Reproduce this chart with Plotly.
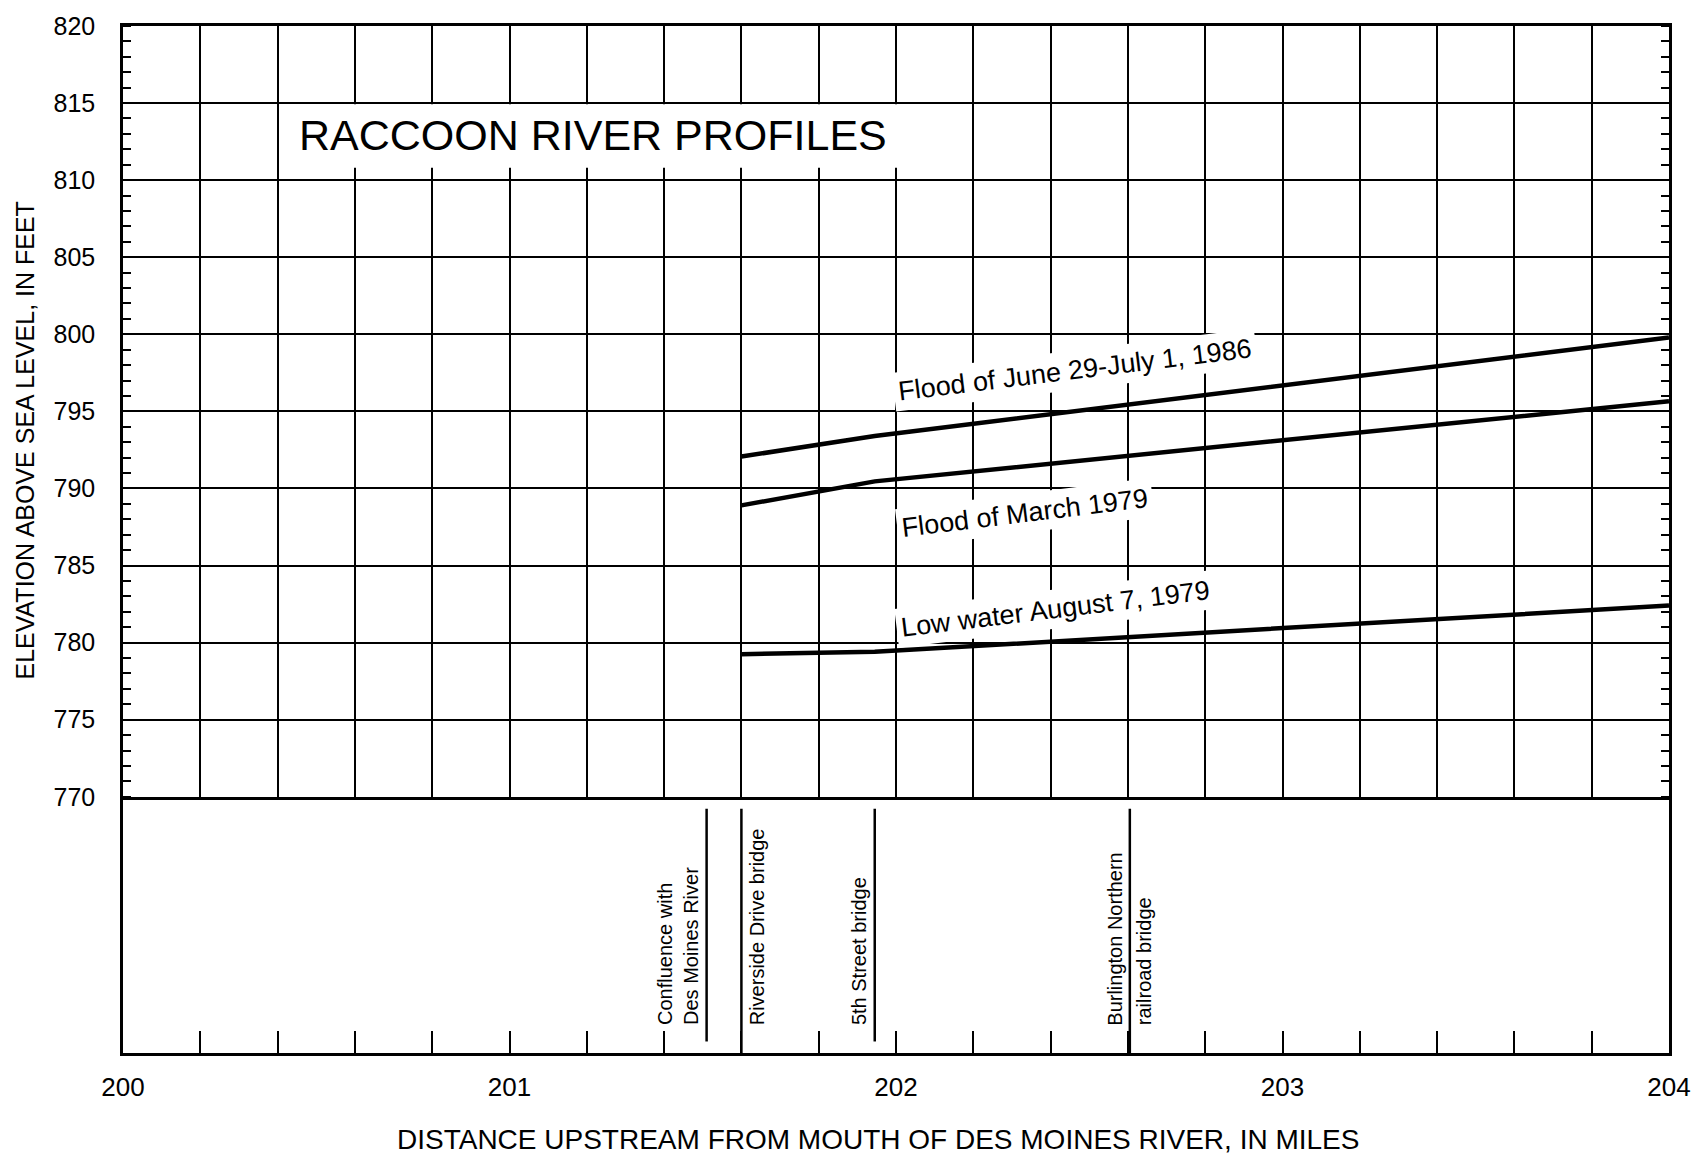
import plotly.graph_objects as go

# ---- data ----
miles = [201.6, 201.945, 204.0]
flood_1986 = [792.07, 793.4, 799.8]
flood_1979 = [788.9, 790.46, 795.65]
low_water_1979 = [779.25, 779.4, 782.4]

series_names = ["Flood of June 29-July 1, 1986", "Flood of March 1979", "Low water August 7, 1979"]
label_x = [202.463, 202.335, 202.412]
label_y = [797.68, 788.39, 782.19]

bridge_names = ["Confluence with<br>Des Moines River", "Riverside Drive bridge", "5th Street bridge",
                "Burlington Northern", "railroad bridge"]
bridge_x = [201.51, 201.6, 201.945, 202.605, 202.605]
bridge_side = ["right", "left", "right", "right", "left"]
marker_lines_x = [201.51, 201.6, 201.945, 202.605]
marker_lines_bottom = [0.045, 0.0, 0.045, 0.0]

x_ticks = [200, 201, 202, 203, 204]
y_ticks = [770, 775, 780, 785, 790, 795, 800, 805, 810, 815, 820]

FONT = "Liberation Sans, Arial, Helvetica, sans-serif"
W, H = 1703, 1156
L, R, T, B = 123, 26, 16, 103
split = 0.2495

fig = go.Figure()
for yv, name in zip([flood_1986, flood_1979, low_water_1979], series_names):
    fig.add_trace(go.Scatter(x=miles, y=yv, mode="lines", name=name,
                             line=dict(color="black", width=4.5), xaxis="x", yaxis="y",
                             showlegend=False, hoverinfo="skip"))

# invisible trace to activate lower subplot
fig.add_trace(go.Scatter(x=[200, 204], y=[0, 1], mode="markers", marker=dict(opacity=0),
                         xaxis="x2", yaxis="y2", showlegend=False, hoverinfo="skip"))

annotations = []
for name, x, y in zip(series_names, label_x, label_y):
    annotations.append(dict(x=x, y=y, xref="x", yref="y", text=name, showarrow=False,
                            textangle=-7, font=dict(family=FONT, size=27, color="black"),
                            bgcolor="white", borderpad=4, xanchor="center", yanchor="middle"))

annotations.append(dict(x=200.45, y=812.95, xref="x", yref="y", text="RACCOON RIVER PROFILES",
                        showarrow=False, font=dict(family=FONT, size=43, color="black"),
                        xanchor="left", yanchor="middle"))

for name, x, side in zip(bridge_names, bridge_x, bridge_side):
    annotations.append(dict(x=x, y=0.10, xref="x2", yref="y2", text=name, showarrow=False,
                            textangle=-90, align="left",
                            font=dict(family=FONT, size=20, color="black"),
                            xanchor=side, yanchor="bottom",
                            xshift=(-2 if side == "right" else 2)))

annotations.append(dict(x=0.4882, y=-0.0845, xref="paper", yref="paper",
                        text="DISTANCE UPSTREAM FROM MOUTH OF DES MOINES RIVER, IN MILES",
                        showarrow=False, font=dict(family=FONT, size=28, color="black"),
                        xanchor="center", yanchor="middle"))
annotations.append(dict(x=-0.0635, y=0.5962, xref="paper", yref="paper",
                        text="ELEVATION ABOVE SEA LEVEL, IN FEET", textangle=-90,
                        showarrow=False, font=dict(family=FONT, size=25, color="black"),
                        xanchor="center", yanchor="middle"))

shapes = []
# white panel behind the title (between grid lines and traces)
shapes.append(dict(type="rect", xref="x", yref="y", x0=200.404, x1=202.196, y0=810.8, y1=814.92,
                   fillcolor="white", line=dict(width=0), layer="between"))
for x, yb in zip(marker_lines_x, marker_lines_bottom):
    shapes.append(dict(type="line", xref="x2", yref="y2", x0=x, x1=x, y0=yb, y1=0.953,
                       line=dict(color="black", width=2.5)))

fig.update_layout(
    width=W, height=H,
    margin=dict(l=L, r=R, t=T, b=B),
    paper_bgcolor="white", plot_bgcolor="white",
    showlegend=False,
    annotations=annotations, shapes=shapes,
    xaxis=dict(domain=[0, 1], anchor="y", range=[200, 204], showticklabels=False,
               tick0=200, dtick=0.2, ticks="", showgrid=True, gridcolor="black", gridwidth=2,
               showline=True, linecolor="black", linewidth=2.5, mirror=True, zeroline=False),
    yaxis=dict(domain=[split, 1], anchor="x", range=[770, 820], tickvals=y_ticks,
               ticks="", showgrid=True, gridcolor="black", gridwidth=2,
               showline=True, linecolor="black", linewidth=2.5, mirror="ticks", zeroline=False,
               tickfont=dict(family=FONT, size=25, color="black"), ticklabelstandoff=20,
               minor=dict(dtick=1, tick0=770, ticks="inside", ticklen=8, tickwidth=2,
                          tickcolor="black", showgrid=False)),
    xaxis2=dict(domain=[0, 1], anchor="y2", range=[200, 204], tickvals=x_ticks,
                ticks="inside", ticklen=22, tickwidth=2, tickcolor="black",
                showgrid=False, showline=True, linecolor="black", linewidth=2.5, mirror=False,
                zeroline=False, tickfont=dict(family=FONT, size=26, color="black"),
                ticklabelstandoff=9,
                minor=dict(dtick=0.2, tick0=200, ticks="inside", ticklen=22, tickwidth=2,
                           tickcolor="black", showgrid=False)),
    yaxis2=dict(domain=[0, split], anchor="x2", range=[0, 1], showticklabels=False, ticks="",
                showgrid=False, showline=True, linecolor="black", linewidth=2.5, mirror=True,
                zeroline=False),
)

fig.write_html("out.html", config={"displayModeBar": False},
               post_script="document.body.style.margin='0';document.body.style.overflow='hidden';")
